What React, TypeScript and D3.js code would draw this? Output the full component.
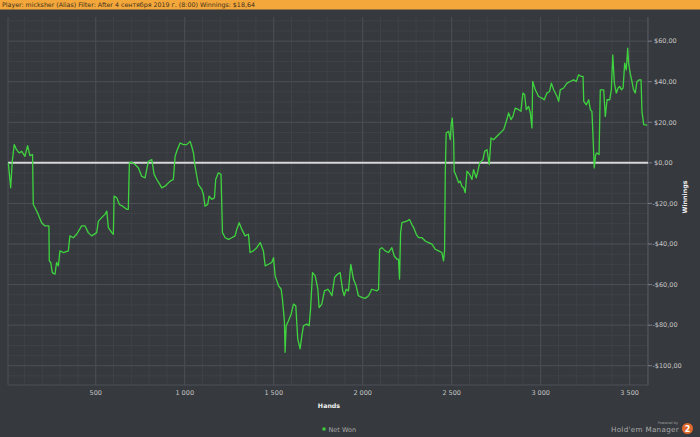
import React, { useEffect, useRef } from "react";
import * as d3 from "d3";

// hand number / cumulative net won ($)
const hands = [
  9, 22, 31, 42, 55, 70, 84, 102, 117, 130, 145, 149, 159, 177, 196, 215, 237, 239, 247, 256,
  271, 280, 290, 299, 318, 346, 355, 374, 393, 421, 440, 458, 477, 505, 515, 533, 552, 562, 571, 590,
  599, 603, 618, 633, 655, 674, 683, 689, 702, 721, 740, 758, 777, 796, 815, 828, 843, 861, 871, 889,
  918, 936, 946, 955, 974, 993, 1011, 1030, 1039, 1049, 1058, 1068, 1077, 1096, 1105, 1114, 1129, 1137, 1152, 1167,
  1174, 1189, 1204, 1212, 1227, 1246, 1264, 1283, 1292, 1306, 1321, 1339, 1358, 1367, 1386, 1405, 1424, 1442, 1452, 1470,
  1489, 1499, 1508, 1527, 1542, 1549, 1560, 1564, 1570, 1583, 1598, 1611, 1624, 1635, 1648, 1658, 1667, 1686, 1699, 1707,
  1718, 1733, 1748, 1755, 1770, 1785, 1804, 1817, 1827, 1842, 1858, 1873, 1888, 1896, 1907, 1920, 1933, 1948, 1963, 1976,
  1995, 2014, 2033, 2051, 2080, 2089, 2095, 2108, 2126, 2145, 2164, 2177, 2192, 2201, 2207, 2213, 2220, 2248, 2263, 2276,
  2286, 2301, 2314, 2333, 2351, 2370, 2389, 2408, 2426, 2445, 2454, 2460, 2464, 2469, 2483, 2492, 2497, 2503, 2511, 2514,
  2526, 2539, 2548, 2557, 2567, 2576, 2586, 2601, 2614, 2623, 2638, 2647, 2657, 2676, 2685, 2698, 2711, 2721, 2735, 2754,
  2792, 2807, 2820, 2833, 2844, 2857, 2876, 2889, 2900, 2910, 2919, 2932, 2942, 2951, 2955, 2970, 2988, 3007, 3020, 3035,
  3050, 3060, 3073, 3092, 3101, 3110, 3129, 3148, 3166, 3185, 3200, 3213, 3227, 3238, 3242, 3257, 3270, 3279, 3288, 3294,
  3301, 3309, 3316, 3328, 3335, 3354, 3363, 3373, 3388, 3397, 3405, 3414, 3425, 3435, 3444, 3453, 3463, 3472, 3481, 3489,
  3494, 3503, 3513, 3522, 3531, 3541, 3554, 3564, 3569, 3579, 3598,
];
const netWon = [
  0, -12.3, 0.8, 9, 6.5, 4.9, 5.7, 3.2, 8.5, 3.6, 4.1, -20.5, -22.1, -25.4, -29.5, -31.1, -31.1, -48.3, -49.1, -54.1,
  -54.9, -49.1, -50.8, -43.4, -44.2, -43.4, -36, -36.9, -35.2, -31.1, -31.1, -34.4, -36, -34.4, -28.7, -27, -25.4, -23.8, -31.9, -34.4,
  -35.2, -16.4, -17.2, -20.5, -21.6, -22.9, -22.9, 0, 0.3, -0.8, -2.5, -6.6, -7.4, 0.8, 1.6, -5.7, -8.2, -10.7, -12.3, -11.5,
  -9, -8.2, 3.2, 5.7, 9.8, 9, 9, 10.6, 8.2, 4.9, -1.6, -6.6, -10.7, -13.1, -15.6, -21.3, -20.5, -16.4, -18, -17.2,
  -8.2, -4.9, -5.7, -34.4, -36.9, -37.7, -36.9, -36, -32.8, -29.5, -32.8, -36, -35.2, -44.2, -43.4, -41.8, -39.3, -43.4, -50.8, -50,
  -49.1, -46.7, -55.7, -60.6, -62.3, -67.2, -77.8, -93.4, -80.3, -77.8, -74.5, -69.6, -70.5, -86.8, -91.7, -85.2, -80.3, -79.5, -80.3, -72.1,
  -54.1, -55.7, -62.3, -71.3, -69.6, -63.1, -62.3, -63.9, -65.5, -56.5, -54.9, -54.1, -63.1, -65.5, -62.3, -63.1, -50, -57.3, -60.6, -65.5,
  -66.3, -66.8, -65.5, -62.3, -63.1, -62.3, -42.6, -41.8, -43.4, -44.2, -41.8, -45.9, -47.5, -47.5, -57.3, -34.4, -29.5, -28.7, -27.9, -30.3,
  -31.9, -35.2, -36.9, -36.9, -38.5, -39.3, -40.1, -42.6, -43.4, -44.2, -48.3, -43.4, -4.9, 14.7, 15.5, 11.4, 18.8, 22.1, 11.4, -4.1,
  -6.6, -9.8, -9, -11.5, -12.3, -14.7, -4.1, -5.7, -8.2, -3.3, -7.4, -4.1, 0, 1.6, 5.7, 6.5, -0.8, 12.3, 11.4, 13.1,
  16.4, 20.5, 24.6, 21.3, 22.9, 27, 26.2, 25.4, 34.4, 33.6, 26.2, 27.8, 24.6, 17.2, 40.1, 36, 32.7, 31.9, 31.1, 34.4,
  35.2, 39.3, 36, 32.7, 30.3, 36, 36.9, 39.3, 40.1, 40.9, 40.1, 43.4, 42.6, 42.6, 30.3, 28.6, 31.1, 26.2, 25.4, 13.1,
  -2.5, 4.1, 4.9, 4.1, 36, 36, 22.9, 31.1, 31.1, 36, 53.2, 39.3, 34.4, 36.9, 37.7, 36, 36.9, 49.1, 45.8, 56.5,
  49.1, 44.2, 40.1, 36, 34.4, 40.1, 40.9, 40.9, 25.4, 18.8, 18.64,
];
const xTicks = [500, 1000, 1500, 2000, 2500, 3000, 3500];
const yTicks = [60, 40, 20, 0, -20, -40, -60, -80, -100];

const W = 700;
const H = 437;
const BG = "#36393e";
const FONT = "'DejaVu Sans', Verdana, sans-serif";

const fmtHands = (v: number) => d3.format(",")(v).replace(/,/g, " ");
const fmtMoney = (v: number) =>
  (v < 0 ? "-" : "") + "$" + d3.format(".2f")(Math.abs(v)).replace(".", ",");

export default function App() {
  const ref = useRef<SVGSVGElement | null>(null);

  useEffect(() => {
    if (!ref.current) return;
    const svg = d3.select(ref.current);
    svg.selectAll("*").remove();

    const left = 8, right = 648, top = 17, bottom = 385;
    const x = d3.scaleLinear().domain([7, 3603]).range([left, right]);
    const y = d3.scaleLinear().domain([-109.5, 71.9]).range([bottom, top]);

    svg.append("rect").attr("width", W).attr("height", H).attr("fill", BG);

    // header bar
    svg.append("rect").attr("width", W).attr("height", 9.5).attr("fill", "#f4a73a");
    svg.append("text")
      .attr("x", 2).attr("y", 7)
      .attr("font-family", FONT).attr("font-size", 6.3)
      .attr("fill", "#3a3020")
      .text("Player: micksher (Alias) Filter: After 4 сентября 2019 г. (8:00) Winnings: $18,64");

    const g = svg.append("g");

    // minor grid
    const minorX = d3.range(100, 3601, 100).filter((v) => v % 500 !== 0);
    g.selectAll(".mx").data(minorX).enter().append("line")
      .attr("x1", (d) => x(d)).attr("x2", (d) => x(d))
      .attr("y1", top).attr("y2", bottom)
      .attr("stroke", "#3f4247").attr("stroke-width", 1);
    const minorY = d3.range(-105, 71, 5).filter((v) => v % 20 !== 0);
    g.selectAll(".my").data(minorY).enter().append("line")
      .attr("x1", left).attr("x2", right)
      .attr("y1", (d) => y(d)).attr("y2", (d) => y(d))
      .attr("stroke", "#3f4247").attr("stroke-width", 1);

    // major grid
    g.selectAll(".gx").data(xTicks).enter().append("line")
      .attr("x1", (d) => x(d)).attr("x2", (d) => x(d))
      .attr("y1", top).attr("y2", bottom)
      .attr("stroke", "#4d5056").attr("stroke-width", 1);
    g.selectAll(".gy").data(yTicks).enter().append("line")
      .attr("x1", left).attr("x2", right)
      .attr("y1", (d) => y(d)).attr("y2", (d) => y(d))
      .attr("stroke", "#4d5056").attr("stroke-width", 1);

    // plot frame
    g.append("line").attr("x1", left).attr("x2", left).attr("y1", top).attr("y2", bottom)
      .attr("stroke", "#4d5056");
    g.append("line").attr("x1", right).attr("x2", right).attr("y1", top).attr("y2", bottom)
      .attr("stroke", "#575b61");
    g.append("line").attr("x1", left).attr("x2", right).attr("y1", bottom).attr("y2", bottom)
      .attr("stroke", "#4d5056");

    // zero line
    g.append("line")
      .attr("x1", left).attr("x2", right)
      .attr("y1", y(0)).attr("y2", y(0))
      .attr("stroke", "#d6d6d6").attr("stroke-width", 2);

    // series
    const pts = hands.map((h, i) => [h, netWon[i]] as [number, number]);
    const line = d3.line<[number, number]>().x((d) => x(d[0])).y((d) => y(d[1]));
    g.append("path")
      .attr("d", line(pts) as string)
      .attr("fill", "none")
      .attr("stroke", "#3fd43f")
      .attr("stroke-width", 1.3)
      .attr("stroke-linejoin", "round");

    // y axis on the right
    const ya = svg.append("g").attr("font-family", FONT).attr("font-size", 6.5).attr("fill", "#c4c4c4");
    ya.selectAll("line").data(yTicks).enter().append("line")
      .attr("x1", right).attr("x2", right + 4)
      .attr("y1", (d) => y(d)).attr("y2", (d) => y(d))
      .attr("stroke", "#7a7e84");
    ya.selectAll("text").data(yTicks).enter().append("text")
      .attr("x", (d) => (d < 0 ? right + 4.5 : right + 6))
      .attr("y", (d) => y(d) + 2.3)
      .text((d) => fmtMoney(d));

    svg.append("text")
      .attr("transform", `translate(687,197) rotate(-90)`)
      .attr("text-anchor", "middle")
      .attr("font-family", FONT).attr("font-size", 6.3).attr("font-weight", "bold")
      .attr("fill", "#f0f0f0")
      .text("Winnings");

    // x axis
    const xa = svg.append("g").attr("font-family", FONT).attr("font-size", 6.5).attr("fill", "#c4c4c4");
    xa.selectAll("text").data(xTicks).enter().append("text")
      .attr("x", (d) => x(d)).attr("y", 395)
      .attr("text-anchor", "middle")
      .text((d) => fmtHands(d));

    svg.append("text")
      .attr("x", 329).attr("y", 408)
      .attr("text-anchor", "middle")
      .attr("font-family", FONT).attr("font-size", 6.3).attr("font-weight", "bold")
      .attr("fill", "#f0f0f0")
      .text("Hands");

    // legend
    svg.append("rect").attr("x", 322.5).attr("y", 427.5).attr("width", 3).attr("height", 3).attr("fill", "#3fd43f");
    svg.append("text")
      .attr("x", 328.5).attr("y", 431.5)
      .attr("font-family", FONT).attr("font-size", 6.5)
      .attr("fill", "#a8a8a8")
      .text("Net Won");

    // logo
    svg.append("text")
      .attr("x", 678).attr("y", 423.5).attr("text-anchor", "end")
      .attr("font-family", FONT).attr("font-size", 3.5).attr("fill", "#9a9a9a")
      .text("Powered by");
    svg.append("text")
      .attr("x", 679).attr("y", 431.5).attr("text-anchor", "end")
      .attr("font-family", FONT).attr("font-size", 7.2).attr("fill", "#a8a8a8")
      .attr("letter-spacing", 0.3)
      .text("Hold'em Manager");
    svg.append("circle").attr("cx", 687.5).attr("cy", 428.5).attr("r", 5.5).attr("fill", "#e06a2c");
    svg.append("text")
      .attr("x", 687.5).attr("y", 431.5).attr("text-anchor", "middle")
      .attr("font-family", FONT).attr("font-size", 8).attr("font-weight", "bold")
      .attr("fill", "#ffffff")
      .text("2");
  }, []);

  return (
    <svg
      ref={ref}
      width={W}
      height={H}
      style={{ position: "fixed", left: 0, top: 0, display: "block" }}
    />
  );
}
